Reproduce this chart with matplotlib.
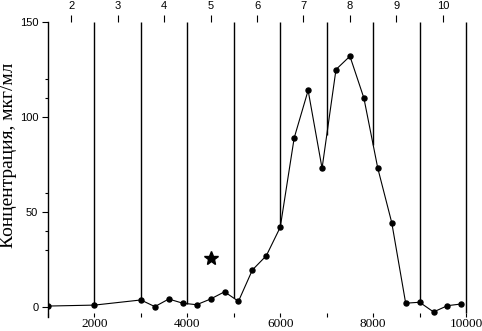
import numpy as np
import matplotlib
matplotlib.use('Agg')
import matplotlib.pyplot as plt

# elution profile: volume (x) vs concentration
volume = [1000, 2000, 3000, 3300, 3600, 3900, 4200, 4500, 4800, 5100, 5400, 5700, 6000,
          6300, 6600, 6900, 7200, 7500, 7800, 8100, 8400, 8700, 9000, 9300, 9600, 9900]
conc = [0.5, 1, 3.7, 0.2, 4.2, 2, 1.2, 4.2, 8, 3, 19.5, 27, 42,
        89, 114, 73, 125, 132, 110, 73, 44.4, 2, 2.5, -2.6, 0.7, 1.6]

# fraction boundaries and fraction numbers
bounds = [2000, 3000, 4000, 5000, 6000, 7000, 8000, 9000, 10000]
frac_pos = [1500, 2500, 3500, 4500, 5500, 6500, 7500, 8500, 9500]
frac_labels = ['2', '3', '4', '5', '6', '7', '8', '9', '10']

star_x, star_y = 4500, 26

x_ticks = [1000, 2000, 3000, 4000, 5000, 6000, 7000, 8000, 9000, 10000]
x_labels = ['', '2000', '', '4000', '', '6000', '', '8000', '', '10000']
y_major = [0, 50, 100, 150]
y_minor = [30, 40, 60, 110, 120]

y_lo, y_hi = -5, 150

fig = plt.figure(figsize=(4.82, 3.31), dpi=100)
ax = fig.add_axes([48 / 482, 1 - 316.5 / 331, 432 / 482, (316.5 - 22) / 331])

# fraction dividers drawn from the top down to the curve
b = np.array(bounds, dtype=float)
bottoms = np.where(b <= volume[-1], np.interp(b, volume, conc), -3)
ax.vlines(b, bottoms, y_hi, color='black', lw=1.0)

ax.plot(volume, conc, '-o', color='black', lw=0.8, ms=3.6)
ax.plot(star_x, star_y, marker='*', color='black', ms=10, ls='none')

ax.set_xlim(1000, 10300)
ax.set_ylim(y_lo, y_hi)

for s in ['top', 'right', 'bottom']:
    ax.spines[s].set_visible(False)
ax.spines['left'].set_linewidth(1.0)

ax.set_xticks(x_ticks)
ax.set_xticklabels(x_labels, family='Liberation Serif', fontsize=9.5)
ax.tick_params(axis='x', direction='in', length=3, width=0.8, pad=1)

ax.set_yticks(y_major)
ax.set_yticklabels([str(v) for v in y_major], family='Liberation Sans', fontsize=8)
ax.set_yticks(y_minor, minor=True)
ax.tick_params(axis='y', which='major', direction='out', length=4, width=0.8, pad=3)
ax.tick_params(axis='y', which='minor', direction='out', length=2, width=0.8)

# fraction numbers on top
top = ax.secondary_xaxis('top')
top.set_xticks(frac_pos)
top.set_xticklabels(frac_labels, family='Liberation Sans', fontsize=8)
top.tick_params(direction='out', length=5, width=0.8, pad=3)
top.spines['top'].set_visible(False)

fig.text(0.018, 0.53, 'Концентрация, мкг/мл', rotation=90, ha='center', va='center',
         family='Liberation Serif', fontsize=14)

fig.savefig('out.png', dpi=100, facecolor='white')
